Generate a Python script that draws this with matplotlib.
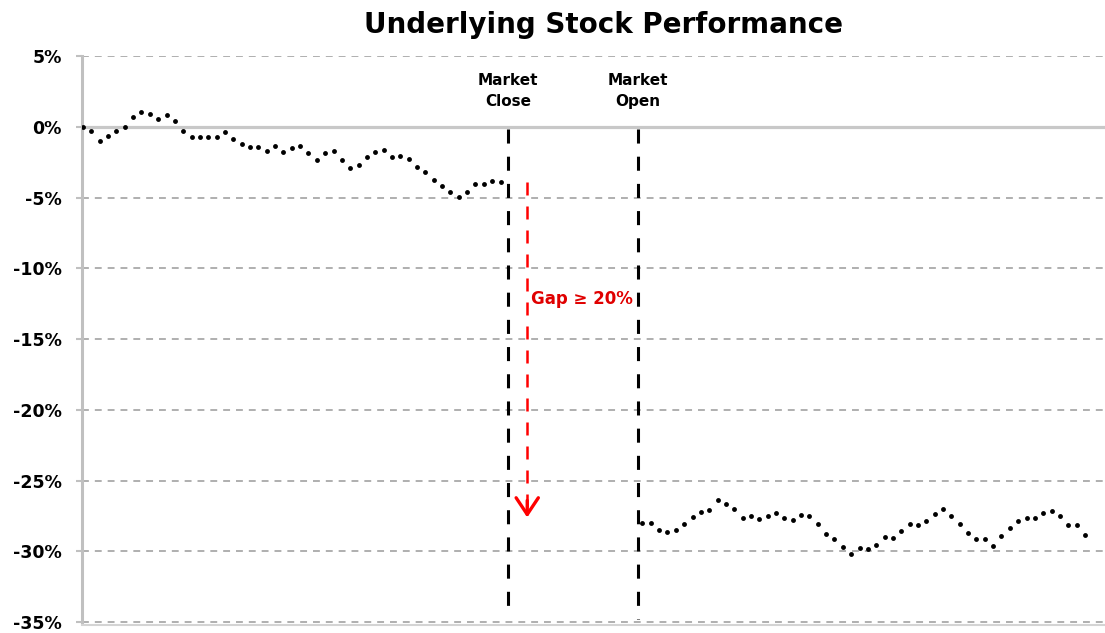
import matplotlib
matplotlib.use("Agg")
import matplotlib.pyplot as plt
import numpy as np

# stock performance (%), one value per sample
day1_perf = [0.0, -0.31, -0.98, -0.62, -0.33, 0.0, 0.67, 1.05, 0.88, 0.52,
             0.86, 0.38, -0.31, -0.69, -0.69, -0.69, -0.69, -0.40, -0.86, -1.21,
             -1.43, -1.43, -1.74, -1.33, -1.81, -1.48, -1.38, -1.88, -2.38, -1.86,
             -1.71, -2.33, -2.88, -2.69, -2.10, -1.81, -1.62, -2.12, -2.05, -2.29,
             -2.81, -3.17, -3.76, -4.19, -4.60, -4.95, -4.60, -4.05, -4.05, -3.81,
             -3.88]
day2_perf = [-28.0, -28.0, -28.47, -28.64, -28.47, -28.04, -27.55, -27.24, -27.05, -26.34,
             -26.63, -26.98, -27.65, -27.48, -27.72, -27.53, -27.26, -27.65, -27.76, -27.41,
             -27.48, -28.07, -28.78, -29.1, -29.7, -30.17, -29.77, -29.81, -29.53, -29.01,
             -29.06, -28.59, -28.07, -28.16, -27.83, -27.36, -26.98, -27.48, -28.07, -28.71,
             -29.1, -29.1, -29.65, -28.94, -28.35, -27.88, -27.65, -27.65, -27.29, -27.17,
             -27.53, -28.16, -28.16, -28.82]
day2_start = 67          # sample index of the first print after the open
close_x = 50.9
open_x = 66.5
close_level = -3.9
open_level = -27.6
gap_label = "Gap \u2265 20%"
yticks = [5, 0, -5, -10, -15, -20, -25, -30, -35]

x1 = np.arange(len(day1_perf))
x2 = day2_start + np.arange(len(day2_perf))

fig = plt.figure(figsize=(11.05, 6.33), dpi=100)
ax = fig.add_axes([0.0738, 0.0126, 0.9262, 0.8989])
ax.set_xlim(-0.18, 122.4)
ax.set_ylim(-35.2, 5)

# grid
for v in yticks:
    if v == 0:
        continue
    ax.axhline(v, color="#9a9a9a", lw=1.1, dashes=(4.5, 3.9), zorder=1)
ax.axhline(0, color="#c8c8c8", lw=2.3, zorder=1)

# market close / open markers
ax.plot([close_x, close_x], [-0.15, -34.2], color="black", lw=2.2,
        dashes=(4.6, 4.3), zorder=2)
ax.plot([open_x, open_x], [-0.15, -34.8], color="black", lw=2.2,
        dashes=(4.6, 4.3), zorder=2)

# price path
ax.plot(x1, day1_perf, "o", color="black", ms=3.5, mew=0, zorder=3)
ax.plot(x2, day2_perf, "o", color="black", ms=3.5, mew=0, zorder=3)

# gap arrow
arrow_x = close_x + 2.3
ax.plot([arrow_x, arrow_x], [close_level, open_level + 0.6], color="red",
        lw=1.8, dashes=(5.2, 4.4), zorder=3)
ax.annotate("", xy=(arrow_x, open_level), xytext=(arrow_x, open_level + 1.2),
            arrowprops=dict(arrowstyle="->,head_length=0.6,head_width=0.4",
                            color="red", lw=2.4, mutation_scale=20,
                            shrinkA=0, shrinkB=0), zorder=3)
ax.text(arrow_x + 0.45, -12.2, gap_label, color="#e00000", fontsize=12,
        fontweight="bold", ha="left", va="center", zorder=4)

ax.text(close_x, 2.5, "Market\nClose", ha="center", va="center",
        fontsize=11, fontweight="bold", linespacing=1.5)
ax.text(open_x, 2.5, "Market\nOpen", ha="center", va="center",
        fontsize=11, fontweight="bold", linespacing=1.5)

# axes styling
ax.set_xticks([])
ax.set_yticks(yticks)
ax.set_yticklabels([f"{v}%" for v in yticks], fontsize=12.5, fontweight="bold")
ax.tick_params(axis="y", length=4.3, width=1.5, color="#c0c0c0", pad=10)
for s in ["top", "right"]:
    ax.spines[s].set_visible(False)
ax.spines["left"].set_color("#c0c0c0")
ax.spines["left"].set_linewidth(2.2)
ax.spines["left"].set_bounds(-35, 5)
ax.spines["bottom"].set_color("#d4d4d4")
ax.spines["bottom"].set_linewidth(1.5)

fig.text(0.546, 1 - 33 / 633, "Underlying Stock Performance", ha="center",
         va="baseline", fontsize=20, fontweight="bold")

fig.savefig("out.png", dpi=100)
